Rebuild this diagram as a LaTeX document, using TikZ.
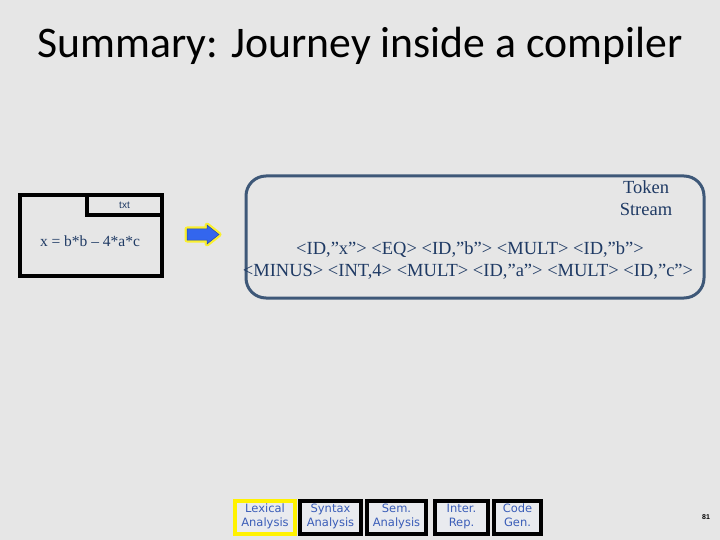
\documentclass[tikz,border=0pt]{standalone}
\usepackage{fontspec}
\setmainfont{Liberation Serif}
\newfontfamily\titlefont{Carlito}
\newfontfamily\stagefont{DejaVu Sans}
\newfontfamily\smallfont{Liberation Sans}
\usetikzlibrary{positioning}

\definecolor{slidebg}{HTML}{E6E6E6}
\definecolor{inkblue}{HTML}{1F3A64}
\definecolor{framegray}{HTML}{3E5878}
\definecolor{stageblue}{HTML}{3A5DB8}
\definecolor{stagefill}{HTML}{E9EBEF}
\definecolor{arrowblue}{HTML}{3366EE}

% two-line stage label with equal line boxes
\newcommand\stagetext[2]{#1\strut\\#2\strut}

\begin{document}
\begin{tikzpicture}[
    x=1pt, y=-1pt,
    every node/.style = {
      inner sep=0pt,
      align=center
    },
    stage/.style = {
      draw=black,
      line width=4pt,
      fill=stagefill,
      text=stageblue,
      font=\stagefont\fontsize{11.5}{14}\selectfont,
      minimum height=33pt
    },
    current/.style = {
      stage,
      draw=yellow
    },
    token/.style = {
      text=inkblue,
      font=\fontsize{18.5}{22}\selectfont
    }
  ]

    % Slide background
    \fill[slidebg] (0,0) rectangle (720,540);
    \useasboundingbox (0,0) rectangle (720,540);

    % Title
    \node[font=\titlefont\fontsize{43.7}{48}\selectfont] (title) at (360,46) {Summary: Journey inside a compiler};

    % Source file with its tab
    \node[draw, line width=4pt, minimum width=142pt, minimum height=81pt] (srcbox) at (91,235.5) {};
    \node[draw, line width=4pt, minimum width=75pt, minimum height=20pt,
          anchor=north east, text=inkblue, font=\smallfont\fontsize{10}{12}\selectfont] (tab)
          at (srcbox.north east) {txt};
    \node[text=inkblue, font=\fontsize{15.5}{18}\selectfont] (source) at (90,241) {x = b*b -- 4*a*c};

    % Glowing block arrow
    \draw[yellow, line width=5pt, line join=round, opacity=0.8]
      (187,229) -- (207,229) -- (207,225) -- (219,234.5) -- (207,244) -- (207,240) -- (187,240) -- cycle;
    \filldraw[fill=arrowblue, draw=arrowblue!70!black, line width=0.5pt]
      (187,229) -- (207,229) -- (207,225) -- (219,234.5) -- (207,244) -- (207,240) -- (187,240) -- cycle;

    % Token stream frame
    \node[draw=framegray, line width=3pt, rounded corners=20pt,
          minimum width=458pt, minimum height=122pt] (stream) at (475,237) {};
    \node[token] (label) at (646,198.5) {Token\\Stream};
    \node[token] (line1) at (470,250) {<ID,”x”> <EQ> <ID,”b”> <MULT> <ID,”b”>};
    \node[token] (line2) at (468,272) {<MINUS> <INT,4> <MULT> <ID,”a”> <MULT> <ID,”c”>};

    % Compiler stages
    \node[current, minimum width=60pt] (lex)  at (265,517)   {\stagetext{Lexical}{Analysis}};
    \node[stage, minimum width=61pt]   (syn)  at (330.5,517) {\stagetext{Syntax}{Analysis}};
    \node[stage, minimum width=59pt]   (sem)  at (396.5,517) {\stagetext{Sem.}{Analysis}};
    \node[stage, minimum width=53pt]   (ir)   at (461.5,517) {\stagetext{Inter.}{Rep.}};
    \node[stage, minimum width=47pt]   (gen)  at (517.5,517) {\stagetext{Code}{Gen.}};

    % Slide number
    \node[font=\smallfont\bfseries\fontsize{7}{8}\selectfont] (pageno) at (706,517) {81};

  \end{tikzpicture}
\end{document}
